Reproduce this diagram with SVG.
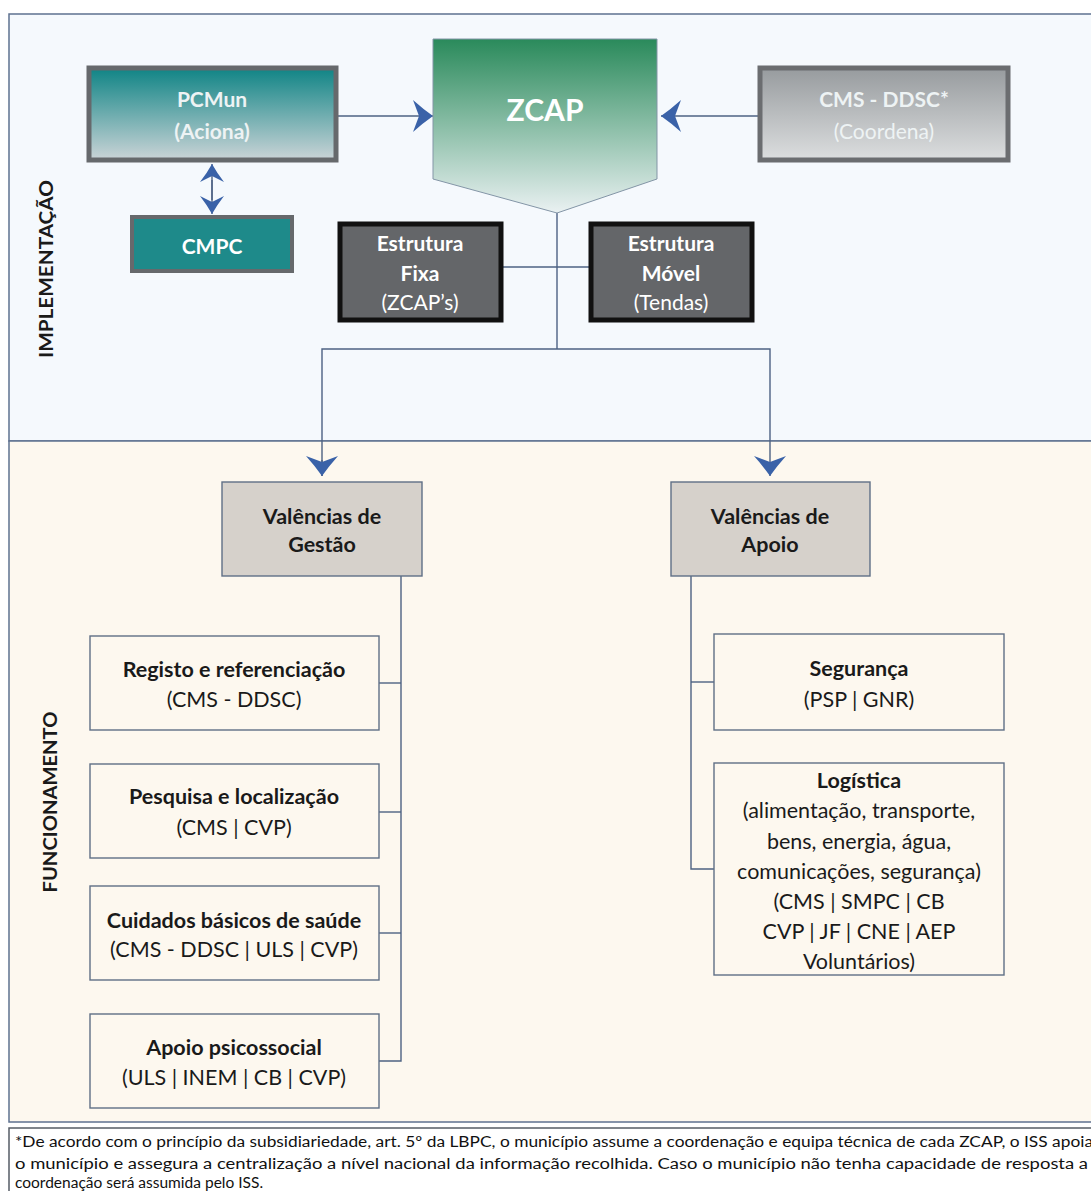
<svg xmlns="http://www.w3.org/2000/svg" width="1091" height="1191" viewBox="0 0 1091 1191">
<style>
.t{font-family:Lato,"Liberation Sans",sans-serif;text-anchor:middle}
.b{font-weight:bold}
.w{fill:#ffffff}
.lw{fill:#eef3f4}
.k{fill:#1a1a1a;font-size:21.5px}
.ln{fill:none;stroke:#4d6283;stroke-width:1.4}
.box{fill:#fdf8ef;stroke:#5f6f86;stroke-width:1.4}
.val{fill:#d6d1cb;stroke:#5f6f86;stroke-width:1.4}
.est{fill:#646669;stroke:#111;stroke-width:5}
.fn{font-family:Lato,"Liberation Sans",sans-serif;font-size:15.5px;fill:#111}
</style>
<defs>
<linearGradient id="gPC" x1="0" y1="0" x2="0" y2="1"><stop offset="0" stop-color="#0f8485"/><stop offset="1" stop-color="#cbd4d7"/></linearGradient>
<linearGradient id="gZ" x1="0" y1="0" x2="0" y2="1"><stop offset="0" stop-color="#2a8a5b"/><stop offset="1" stop-color="#eaf1f2"/></linearGradient>
<linearGradient id="gCMS" x1="0" y1="0" x2="0" y2="1"><stop offset="0" stop-color="#979b9e"/><stop offset="1" stop-color="#dcdedf"/></linearGradient>
<marker id="ah" markerUnits="userSpaceOnUse" markerWidth="22" markerHeight="34" refX="20" refY="16" orient="auto" viewBox="0 0 22 34"><path d="M0,0 Q10,9 20,16 Q10,23 0,32 L6,16 Z" fill="#3a62a8"/></marker>
<marker id="as" markerUnits="userSpaceOnUse" markerWidth="20" markerHeight="26" refX="18" refY="12" orient="auto" viewBox="0 0 20 26"><path d="M0,0 Q9,7 18,12 Q9,17 0,24 L6,12 Z" fill="#3a62a8"/></marker>
</defs>
<rect x="0" y="0" width="1091" height="1191" fill="#ffffff"/>
<g id="frame">
<rect x="9" y="14" width="1100" height="427" fill="#f5f9fd" stroke="#5e7190" stroke-width="1.5"/>
<rect x="9" y="441" width="1100" height="681" fill="#fdf8ef" stroke="#5e7190" stroke-width="1.5"/>
<rect x="9" y="1128" width="1100" height="80" fill="#ffffff" stroke="#555c66" stroke-width="1.5"/>
</g>
<g id="section-labels">
<text class="t b" font-size="19" fill="#1a1a1a" transform="translate(53,269) rotate(-90)" textLength="178" lengthAdjust="spacingAndGlyphs">IMPLEMENTAÇÃO</text>
<text class="t b" font-size="19" fill="#1a1a1a" transform="translate(57,802) rotate(-90)" textLength="181" lengthAdjust="spacingAndGlyphs">FUNCIONAMENTO</text>
</g>
<g id="connectors">
<line class="ln" x1="338" y1="116" x2="433" y2="116" marker-end="url(#ah)"/>
<line class="ln" x1="758" y1="116" x2="661" y2="116" marker-end="url(#ah)"/>
<line class="ln" x1="212" y1="200" x2="212" y2="164" marker-end="url(#as)"/>
<line class="ln" x1="212" y1="180" x2="212" y2="214" marker-end="url(#as)"/>
<line class="ln" x1="557" y1="213" x2="557" y2="349"/>
<line class="ln" x1="503" y1="267" x2="589" y2="267"/>
<polyline class="ln" points="322,476 322,349 770,349 770,476" marker-end="url(#ah)"/>
<line class="ln" x1="322" y1="460" x2="322" y2="476" marker-end="url(#ah)"/>
<polyline class="ln" points="401,576 401,1061 379,1061"/>
<line class="ln" x1="379" y1="683" x2="401" y2="683"/>
<line class="ln" x1="379" y1="812" x2="401" y2="812"/>
<line class="ln" x1="379" y1="933" x2="401" y2="933"/>
<polyline class="ln" points="691,576 691,869 714,869"/>
<line class="ln" x1="691" y1="682" x2="714" y2="682"/>
</g>
<g id="pcmun">
<rect x="89" y="68" width="247" height="92" fill="url(#gPC)" stroke="#66696c" stroke-width="5"/>
<text class="t b lw" font-size="21" x="212" y="107">PCMun</text>
<text class="t b lw" font-size="21" x="212" y="139">(Aciona)</text>
</g>
<g id="cmpc">
<rect x="132" y="217" width="160" height="54" fill="#1e8a8a" stroke="#66696c" stroke-width="4"/>
<text class="t b w" font-size="21" x="212" y="254">CMPC</text>
</g>
<g id="zcap">
<path d="M433,39 L657,39 L657,179 L557,213 L433,179 Z" fill="url(#gZ)" stroke="#8395a6" stroke-width="1"/>
<text class="t b w" font-size="30" x="545" y="121">ZCAP</text>
</g>
<g id="cms-ddsc">
<rect x="760" y="68" width="248" height="92" fill="url(#gCMS)" stroke="#6b6d70" stroke-width="5"/>
<text class="t b lw" font-size="21" x="884" y="107">CMS - DDSC*</text>
<text class="t lw" font-size="21" x="884" y="139">(Coordena)</text>
</g>
<g id="estrutura-fixa">
<rect class="est" x="340" y="224" width="161" height="96"/>
<text class="t b w" font-size="21" x="420" y="251">Estrutura</text>
<text class="t b w" font-size="21" x="420" y="281">Fixa</text>
<text class="t w" font-size="21" x="420" y="310">(ZCAP’s)</text>
</g>
<g id="estrutura-movel">
<rect class="est" x="591" y="224" width="161" height="96"/>
<text class="t b w" font-size="21" x="671" y="251">Estrutura</text>
<text class="t b w" font-size="21" x="671" y="281">Móvel</text>
<text class="t w" font-size="21" x="671" y="310">(Tendas)</text>
</g>
<g id="valencias-gestao">
<rect class="val" x="222" y="482" width="200" height="94"/>
<text class="t b k" x="322" y="524">Valências de</text>
<text class="t b k" x="322" y="552">Gestão</text>
</g>
<g id="valencias-apoio">
<rect class="val" x="671" y="482" width="199" height="94"/>
<text class="t b k" x="770" y="524">Valências de</text>
<text class="t b k" x="770" y="552">Apoio</text>
</g>
<g id="registo">
<rect class="box" x="90" y="636" width="289" height="94"/>
<text class="t b k" x="234" y="677">Registo e referenciação</text>
<text class="t k" x="234" y="707">(CMS - DDSC)</text>
</g>
<g id="pesquisa">
<rect class="box" x="90" y="764" width="289" height="94"/>
<text class="t b k" x="234" y="804">Pesquisa e localização</text>
<text class="t k" x="234" y="835">(CMS | CVP)</text>
</g>
<g id="cuidados">
<rect class="box" x="90" y="886" width="289" height="94"/>
<text class="t b k" x="234" y="928">Cuidados básicos de saúde</text>
<text class="t k" x="234" y="957">(CMS - DDSC | ULS | CVP)</text>
</g>
<g id="apoio-psicossocial">
<rect class="box" x="90" y="1014" width="289" height="94"/>
<text class="t b k" x="234" y="1055">Apoio psicossocial</text>
<text class="t k" x="234" y="1085">(ULS | INEM | CB | CVP)</text>
</g>
<g id="seguranca">
<rect class="box" x="714" y="634" width="290" height="96"/>
<text class="t b k" x="859" y="676">Segurança</text>
<text class="t k" x="859" y="707">(PSP | GNR)</text>
</g>
<g id="logistica">
<rect class="box" x="714" y="763" width="290" height="212"/>
<text class="t b k" x="859" y="788">Logística</text>
<text class="t k" x="859" y="818">(alimentação, transporte,</text>
<text class="t k" x="859" y="849">bens, energia, água,</text>
<text class="t k" x="859" y="879">comunicações, segurança)</text>
<text class="t k" x="859" y="909">(CMS | SMPC | CB</text>
<text class="t k" x="859" y="939">CVP | JF | CNE | AEP</text>
<text class="t k" x="859" y="969">Voluntários)</text>
</g>
<g id="footnote">
<text class="fn" x="15" y="1147" textLength="1078" lengthAdjust="spacingAndGlyphs">*De acordo com o princípio da subsidiariedade, art. 5º da LBPC, o município assume a coordenação e equipa técnica de cada ZCAP, o ISS apoia</text>
<text class="fn" x="15" y="1169" textLength="1073" lengthAdjust="spacingAndGlyphs">o município e assegura a centralização a nível nacional da informação recolhida. Caso o município não tenha capacidade de resposta a</text>
<text class="fn" x="15" y="1188">coordenação será assumida pelo ISS.</text>
</g>
</svg>
